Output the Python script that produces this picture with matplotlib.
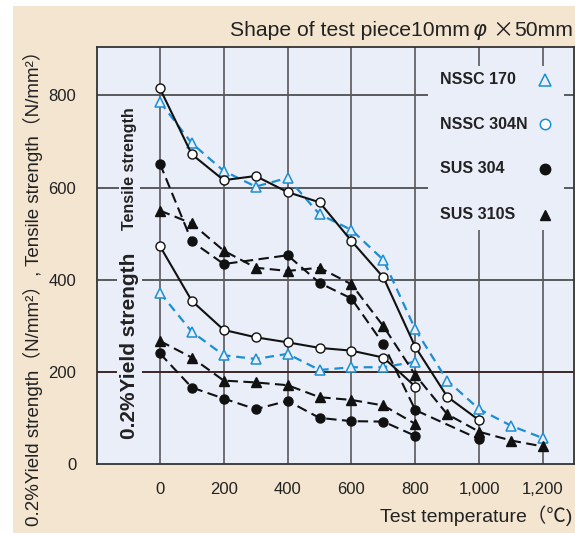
import matplotlib
matplotlib.use('Agg')
import matplotlib.pyplot as plt
from matplotlib.patches import Rectangle

plt.rcParams['font.family'] = ['Liberation Sans', 'Noto Sans CJK JP', 'DejaVu Sans']

# test temperature (C)
temp_full = [0, 100, 200, 300, 400, 500, 600, 700, 800, 900, 1000, 1100, 1200]
temp_yield = [0, 100, 200, 300, 400, 500, 600, 700, 800]

# NSSC 170
nssc170_ts = [786, 696, 636, 602, 621, 542, 508, 443, 292, 181, 119, 83, 56]
nssc170_ys = [372, 287, 236, 228, 239, 204, 210, 210, 222]

# NSSC 304N
temp_304n_ts = [0, 100, 200, 300, 400, 500, 600, 700, 800, 900, 1000]
nssc304n_ts = [815, 672, 616, 625, 590, 568, 484, 405, 254, 146, 95]
nssc304n_ys = [473, 354, 291, 275, 264, 252, 246, 231, 168]

# SUS 304
temp_304_ts = [0, 100, 200, 400, 500, 600, 700, 800, 1000]
sus304_ts = [652, 483, 434, 453, 393, 359, 260, 117, 54]
sus304_ys = [240, 166, 142, 119, 137, 100, 93, 92, 61]

# SUS 310S
sus310s_ts = [550, 522, 463, 426, 419, 426, 390, 299, 193, 108, 70, 51, 38]
sus310s_ys = [267, 231, 181, 177, 171, 145, 139, 127, 87]

xticks = [0, 200, 400, 600, 800, 1000, 1200]
xtick_labels = ['0', '200', '400', '600', '800', '1,000', '1,200']
yticks = [0, 200, 400, 600, 800]

blue = '#1c8fd3'
bg = '#e9eef8'
beige = '#f3e5d0'
ink = '#222222'

fig = plt.figure(figsize=(5.75, 5.33), dpi=100)
fig.patch.set_facecolor('white')
fig.patches.append(Rectangle((13 / 575, 0), 1, (533 - 6) / 533, transform=fig.transFigure,
                             facecolor=beige, edgecolor='none', zorder=-10))

ax = fig.add_axes([97 / 575, 1 - 464 / 533, (574 - 97) / 575, (464 - 47) / 533])
ax.set_facecolor(bg)
ax.set_xlim(-197, 1297)
ax.set_ylim(0, 905)

# grid
for x in xticks:
    ax.axvline(x, color='#6e6e72', lw=1.4, zorder=1)
for y in yticks[1:]:
    ax.axhline(y, color='#3c2626' if y == 200 else '#5a5a5e', lw=1.4, zorder=1)

ms = 6.5
dash_k = (0, (5, 2.6))
dash_b = (0, (4, 2.6))

ax.plot(temp_full, nssc170_ts, ls=dash_b, color=blue, lw=1.6, marker='^', ms=ms + 1,
        mfc=bg, mec=blue, mew=1.1, zorder=3)
ax.plot(temp_yield, nssc170_ys, ls=dash_b, color=blue, lw=1.6, marker='^', ms=ms + 1,
        mfc=bg, mec=blue, mew=1.1, zorder=3)

ax.plot(temp_304n_ts, nssc304n_ts, ls='-', color='#111111', lw=1.5, marker='o', ms=ms,
        mfc='white', mec='#111111', mew=1.0, zorder=4)
ax.plot(temp_yield, nssc304n_ys, ls='-', color='#111111', lw=1.5, marker='o', ms=ms,
        mfc='white', mec='#111111', mew=1.0, zorder=4)

ax.plot(temp_304_ts, sus304_ts, ls=dash_k, color='#111111', lw=1.5, marker='o', ms=ms,
        mfc='#111111', mec='#111111', zorder=3)
ax.plot(temp_yield, sus304_ys, ls=dash_k, color='#111111', lw=1.5, marker='o', ms=ms,
        mfc='#111111', mec='#111111', zorder=3)

ax.plot(temp_full, sus310s_ts, ls=dash_k, color='#111111', lw=1.5, marker='^', ms=ms,
        mfc='#111111', mec='#111111', zorder=3)
ax.plot(temp_yield, sus310s_ys, ls=dash_k, color='#111111', lw=1.5, marker='^', ms=ms,
        mfc='#111111', mec='#111111', zorder=3)

# legend: plain box, names left aligned, keys on the right
names = ['NSSC 170', 'NSSC 304N', 'SUS 304', 'SUS 310S']
keys = [dict(marker='^', ms=ms + 2, mfc=bg, mec=blue, mew=1.1),
        dict(marker='o', ms=ms + 1, mfc='white', mec=blue, mew=1.1),
        dict(marker='o', ms=ms + 1, mfc='#111111', mec='#111111'),
        dict(marker='^', ms=ms + 1, mfc='#111111', mec='#111111')]
ax.add_patch(Rectangle((0.694, 0.561), 0.285, 0.393, transform=ax.transAxes,
                       facecolor=bg, edgecolor='none', zorder=2))
row_y = [0.921, 0.815, 0.708, 0.598]
for name, key, yy in zip(names, keys, row_y):
    ax.text(0.719, yy, name, transform=ax.transAxes, ha='left', va='center',
            fontsize=11.5, fontweight='bold', color=ink, zorder=6)
    ax.plot([0.939], [yy], transform=ax.transAxes, ls='none', zorder=6, clip_on=False, **key)

# curve group labels
ax.text(-95, 642, 'Tensile strength', rotation=90, ha='center', va='center', fontsize=11.5,
        fontweight='bold', color=ink, zorder=5,
        bbox=dict(facecolor=bg, edgecolor='none', pad=2))
ax.text(-95, 256, '0.2%Yield strength', rotation=90, ha='center', va='center', fontsize=15,
        fontweight='bold', color=ink, zorder=5,
        bbox=dict(facecolor=bg, edgecolor='none', pad=2))

ax.set_xticks(xticks)
ax.set_xticklabels(xtick_labels)
ax.set_yticks(yticks)
ax.tick_params(length=0, labelsize=12, colors=ink)
ax.tick_params(axis='x', pad=13)
ax.tick_params(axis='y', pad=15)

for s in ax.spines.values():
    s.set_color('#333333')
    s.set_linewidth(1.3)
    s.set_zorder(7)

# title built right to left so that each piece can use its own font
r = fig.canvas.get_renderer()
pieces = [('50mm', ['Liberation Sans'], 1, 'normal'),
          ('\u00d7', ['Noto Sans CJK JP'], 5, 'normal'),
          ('\u03c6', ['DejaVu Sans'], 3, 'italic'),
          ('Shape of test piece10mm', ['Liberation Sans'], 0, 'normal')]
xpix = 573
for s, fam, gap, style in pieces:
    t = fig.text(xpix / 575, 1 - 36 / 533, s, ha='right', va='baseline', fontsize=15.2,
                 color=ink, family=fam, style=style)
    bb = t.get_window_extent(r)
    xpix = bb.x0 - gap

fig.text(572 / 575, 1 - 516 / 533, 'Test temperature\uff08\u2103)', ha='right', va='center',
         fontsize=14, color=ink, family=['Liberation Sans', 'Noto Sans CJK JP'])
fig.text(33 / 575, 1 - 284 / 533,
         '0.2%Yield strength\uff08N/mm\u00b2\uff09, Tensile strength\uff08N/mm\u00b2\uff09',
         rotation=90, ha='center', va='center', fontsize=13.5, color=ink,
         family=['Liberation Sans', 'Noto Sans CJK JP'])

fig.savefig('out.png', dpi=100)
